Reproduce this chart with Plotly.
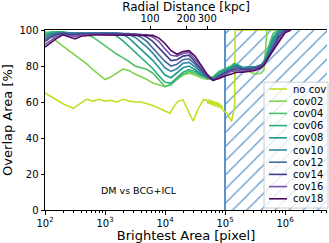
import plotly.graph_objects as go

# ---------------- data ----------------
log_area = [2.0, 2.1, 2.2, 2.3, 2.4, 2.5, 2.6, 2.7, 2.8, 2.9, 3.0, 3.1, 3.2, 3.3, 3.4, 3.5,
            3.6, 3.7, 3.8, 3.9, 4.0, 4.1, 4.2, 4.3, 4.4, 4.5, 4.6, 4.7, 4.8, 4.9, 5.0, 5.1,
            5.15, 5.2, 5.3, 5.4, 5.5, 5.6, 5.65, 5.7, 5.8, 5.9, 6.0, 6.1]

nocov_log_area = [2.0, 2.1, 2.2, 2.3, 2.47, 2.55, 2.69, 2.8, 2.9, 3.0, 3.1, 3.2, 3.3, 3.4, 3.5,
                  3.6, 3.7, 3.8, 3.9, 4.0, 4.08, 4.15, 4.22, 4.3, 4.38, 4.47, 4.55, 4.64, 4.7,
                  4.72, 4.74, 4.76, 4.78, 4.80, 4.82, 4.84, 4.86, 4.88, 4.90, 4.92, 4.94, 4.96,
                  5.03, 5.11, 5.16, 5.17, 5.3, 5.6, 6.0]
no_cov = [65, 63, 61, 59, 56.5, 58.5, 61.5, 60.5, 61.5, 60.5, 61, 60, 61.5, 60.5, 60,
          60, 59, 58, 56.5, 55, 53.8, 57.5, 60.5, 61.2, 56, 49.3, 56, 61.2, 61,
          59, 61.5, 58.5, 61, 58, 60.5, 57.5, 60, 57, 59.5, 56.5, 58.5, 55.5,
          53.9, 49.3, 57.5, 100, 100, 100, 100]

cov02 = [99, 97, 93.5, 91, 88.5, 86, 84, 81, 78, 75, 72.5, 74, 76, 78.3, 77.5, 75.5,
         74, 72.5, 70.5, 69.5, 68.5, 70, 72.5, 75, 76, 75, 73.5, 72.5, 73, 76.5, 78, 79.5,
         81, 80.5, 78, 77, 75.5, 76, 78, 100, 100, 100, 100, 100]
cov04 = [98.5, 99, 99, 98.5, 98.5, 98, 98, 97.5, 96, 93.5, 91, 88.5, 86.5, 84.5, 82.5, 80,
         79, 78, 76, 72, 68.5, 69.5, 73, 75.5, 77, 76, 74.5, 73.5, 74, 77, 78.5, 80,
         81.5, 81, 79, 79.5, 79, 80, 83, 88, 98, 100, 100, 100]
cov06 = [97.5, 98.5, 99, 99, 98.5, 98.5, 98.5, 98.5, 98.5, 98.5, 98.5, 98, 96.5, 94, 91, 88,
         85, 82, 78.5, 74.5, 71, 70.5, 73.5, 76.5, 78, 77, 75, 73.5, 73.5, 76.5, 78, 79.5,
         81, 80.5, 79, 79.5, 79, 80, 82.5, 86.5, 96, 100, 100, 100]
cov08 = [96.5, 98, 98.5, 98.5, 98.5, 98.5, 98.5, 98.5, 98.5, 98.5, 98.5, 98.5, 98, 97.5, 95.5, 92.5,
         89.5, 86.5, 83, 79, 75, 73.5, 76, 79, 80, 78, 75.5, 73.5, 73, 75.5, 77.5, 79,
         80, 80.5, 79, 79.5, 79.5, 80.5, 82, 85.5, 94.5, 99.5, 100, 100]
cov10 = [95.5, 97.5, 98.5, 98.5, 98.5, 98.5, 98.5, 98.5, 98.5, 98.5, 98.5, 98.5, 98.5, 98, 97.5, 96,
         93.5, 90.5, 87, 83, 79, 77, 78.5, 81.5, 82, 79.5, 76.5, 73.5, 72.5, 75, 77, 78.5,
         79.5, 80, 79, 79, 79.5, 80.5, 82, 84.5, 93, 99, 100, 100]
cov12 = [94.5, 97, 98, 98.3, 98, 98, 98.3, 98.3, 98.3, 98.3, 98.3, 98.3, 98.3, 98, 98, 97.5,
         96, 93.5, 90, 86.5, 82.5, 80, 81, 83.5, 84, 81, 77.5, 74, 72.5, 74.5, 76.5, 78,
         79, 79.5, 78.5, 78.5, 79, 80.5, 81.5, 84, 91.5, 98, 100, 100]
cov14 = [93.5, 96, 97.5, 98, 97.5, 97.3, 97.8, 98, 98, 98, 98, 98, 98, 98, 97.8, 97.8,
         97.5, 96, 93.5, 90, 86, 83, 83.5, 85.5, 86, 82.5, 78.5, 74.5, 72, 74, 76, 77.5,
         78, 78.5, 78, 78, 78.5, 80, 81.5, 83.5, 90, 96.5, 99.5, 100]
cov16 = [92, 94.5, 96.5, 97.5, 96.8, 96.3, 97.2, 97.6, 97.6, 97.6, 97.6, 97.6, 97.6, 97.6, 97.5, 97.5,
         97.5, 97.3, 96, 93.5, 89.5, 86, 85.5, 87, 87.5, 84, 80, 75, 72, 73.5, 75.5, 77,
         77, 77.5, 77, 77.5, 78, 79.5, 81, 83, 89, 95, 99, 100]
cov18 = [90.5, 93, 95.5, 97.3, 96, 95, 96.5, 97, 97.2, 97.2, 97.2, 97.2, 97.2, 97.2, 97.2, 97.2,
         97.2, 97.2, 97, 95.5, 92.5, 88.5, 86.5, 88, 88.5, 85.5, 80.5, 75.5, 72, 73, 74.5, 75.5,
         76, 76.5, 76.5, 77, 77.5, 79, 80.5, 83.5, 88.5, 94, 98.5, 100]

series_names = ["no cov", "cov02", "cov04", "cov06", "cov08", "cov10", "cov12", "cov14", "cov16", "cov18"]
series_colors = ["#c2df23", "#7fd34e", "#4fc16b", "#2aaf7f", "#1f978b", "#3388a6",
                 "#466a9c", "#3f3d8c", "#7653a6", "#4f0a62"]
cov_series = [cov02, cov04, cov06, cov08, cov10, cov12, cov14, cov16, cov18]

x_ticks = [1e2, 1e3, 1e4, 1e5, 1e6]
x_tick_text = ["10<sup>2</sup>", "10<sup>3</sup>", "10<sup>4</sup>", "10<sup>5</sup>", "10<sup>6</sup>"]
radial_ticks = [100, 200, 300]
y_ticks = [0, 20, 40, 60, 80, 100]
masked_area_start = 1e5

# ---------------- figure ----------------
W, H = 329, 243
L, R, T, B = 45, 2, 29, 31
PW, PH = W - L - R, H - T - B
XMIN, XMAX = 2.0, 6.7
FONT = "DejaVu Sans"

def pxx(p):
    return (p - L) / PW

def pxy(p):
    return (H - B - p) / PH

fig = go.Figure()

# hatched (masked) region
fig.add_trace(go.Scatter(
    x=[masked_area_start, 10 ** 6.9, 10 ** 6.9, masked_area_start, masked_area_start],
    y=[0, 0, 100, 100, 0], mode="lines", line=dict(width=0),
    fill="toself", fillcolor="rgba(0,0,0,0)",
    fillpattern=dict(shape="/", fgcolor="#5b95cc", fgopacity=1, bgcolor="white", size=10, solidity=0.12),
    showlegend=False, hoverinfo="skip"))
fig.add_trace(go.Scatter(x=[masked_area_start, masked_area_start], y=[0, 100], mode="lines",
                         line=dict(color="#5b93c8", width=2), showlegend=False, hoverinfo="skip"))

all_x = [[10 ** v for v in nocov_log_area]] + [[10 ** v for v in log_area]] * len(cov_series)
all_y = [no_cov] + cov_series
for name, col, xs, ys in zip(series_names, series_colors, all_x, all_y):
    fig.add_trace(go.Scatter(x=xs, y=ys, mode="lines", name=name,
                             line=dict(color=col, width=1.6), showlegend=False))

# dummy trace for top axis
fig.add_trace(go.Scatter(x=radial_ticks, y=[-50, -50], xaxis="x2", mode="markers",
                         marker=dict(opacity=0), showlegend=False, hoverinfo="skip"))

axis_font = dict(family=FONT, size=10, color="black")
fig.update_layout(
    width=W, height=H, margin=dict(l=L, r=R, t=T, b=B),
    paper_bgcolor="white", plot_bgcolor="white",
    font=dict(family=FONT, color="black"),
    showlegend=False,
    xaxis=dict(type="log", range=[XMIN, XMAX], tickvals=x_ticks, ticktext=x_tick_text,
               ticks="outside", ticklen=3.5, tickwidth=1, tickcolor="black",
               showline=True, linecolor="black", linewidth=1, showgrid=False, zeroline=False,
               tickfont=axis_font,
               minor=dict(ticks="outside", ticklen=2, tickcolor="black", showgrid=False,
                          tickvals=[m * 10 ** e for e in range(2, 7) for m in range(2, 10)]),
               title=dict(text="Brightest Area [pixel]", font=dict(family=FONT, size=13), standoff=3)),
    xaxis2=dict(type="log", overlaying="x", side="top",
                range=[(XMIN + 0.25) / 2, (XMAX + 0.25) / 2],
                tickvals=radial_ticks, ticktext=[str(v) for v in radial_ticks],
                ticks="outside", ticklen=3.5, tickcolor="black",
                showline=True, linecolor="black", linewidth=1, showgrid=False, zeroline=False,
                tickfont=axis_font,
                title=dict(text="Radial Distance [kpc]", font=dict(family=FONT, size=12), standoff=2)),
    yaxis=dict(range=[0, 100], tickvals=y_ticks, ticks="outside", ticklen=3.5, tickcolor="black",
               showline=True, linecolor="black", linewidth=1, showgrid=False, zeroline=False,
               tickfont=axis_font,
               title=dict(text="Overlap Area [%]", font=dict(family=FONT, size=13), standoff=4)),
)

fig.add_annotation(x=3.57, y=11, xref="x", yref="y", text="DM vs BCG+ICL", showarrow=False,
                   font=dict(family=FONT, size=9.5, color="black"))

# manual legend (matplotlib-like compact box)
shapes = [dict(type="rect", xref="paper", yref="paper",
               x0=pxx(264), x1=pxx(328), y0=pxy(210), y1=pxy(82),
               fillcolor="rgba(255,255,255,0.8)", line=dict(color="#cccccc", width=1), layer="above")]
row0, dy = 89, 12.4
for i, (name, col) in enumerate(zip(series_names, series_colors)):
    yy = row0 + i * dy
    shapes.append(dict(type="line", xref="paper", yref="paper", x0=pxx(269), x1=pxx(287),
                       y0=pxy(yy), y1=pxy(yy), line=dict(color=col, width=1.6), layer="above"))
    fig.add_annotation(x=pxx(291), y=pxy(yy), xref="paper", yref="paper", text=name,
                       showarrow=False, xanchor="left", yanchor="middle",
                       font=dict(family=FONT, size=10, color="black"))
fig.update_layout(shapes=shapes)

fig.write_html("out.html", config={"displayModeBar": False},
               post_script="document.body.style.margin='0';document.body.style.overflow='hidden';")
